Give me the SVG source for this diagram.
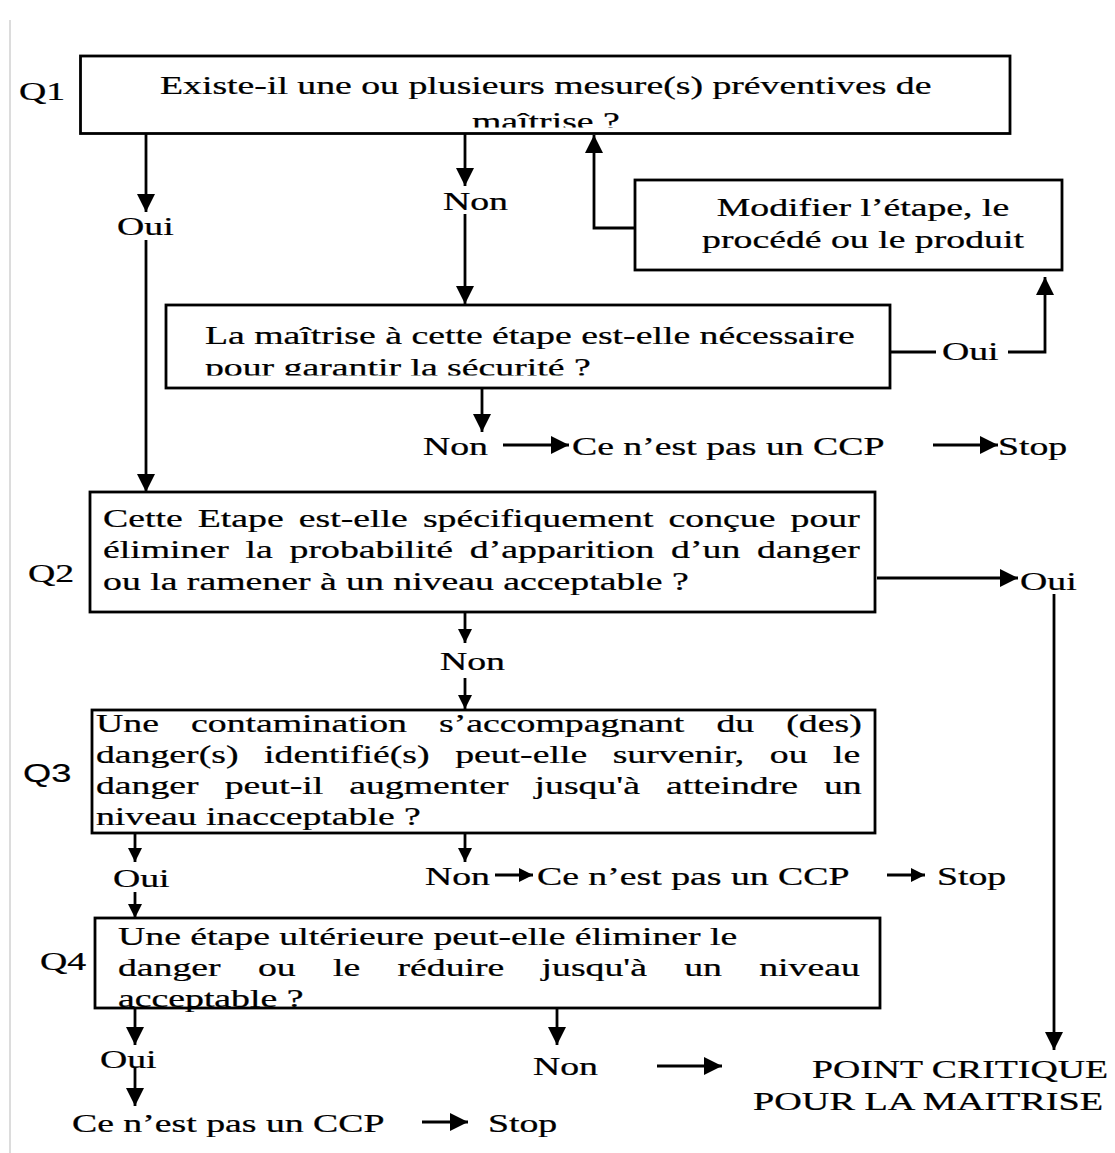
<svg xmlns="http://www.w3.org/2000/svg" width="1115" height="1153" viewBox="0 0 1115 1153">
<style>
.box{fill:#fff;stroke:#000;stroke-width:2.8}
.t{font-family:"Liberation Serif","Times New Roman",serif;font-size:26px;fill:#000;stroke:#000;stroke-width:0.25}
.s{font-family:"Liberation Sans",Arial,sans-serif;font-size:25px;fill:#000;stroke:#000;stroke-width:0.2}
.c{fill:none;stroke:#000;stroke-width:2.8}
</style>
<defs>
<marker id="big" viewBox="0 0 18 18" refX="18" refY="9" markerWidth="18" markerHeight="18" markerUnits="userSpaceOnUse" orient="auto"><path d="M0,0 L18,9 L0,18 z" fill="#000"/></marker>
<marker id="sm" viewBox="0 0 14 14" refX="14" refY="7" markerWidth="14" markerHeight="14" markerUnits="userSpaceOnUse" orient="auto"><path d="M0,0 L14,7 L0,14 z" fill="#000"/></marker>
<clipPath id="clipQ1"><rect x="80" y="56" width="930" height="71.5"/></clipPath>
<clipPath id="clipLM"><rect x="166" y="305" width="724" height="70.5"/></clipPath>
</defs>
<rect width="1115" height="1153" fill="#fff"/>
<line x1="10" y1="20" x2="10" y2="1153" stroke="#dcdcdc" stroke-width="2"/>

<g id="q1">
<rect class="box" x="80.5" y="56" width="929.5" height="77.5"/>
<g transform="scale(1.452,1)"><text class="t" x="13.09" y="100">Q1</text>
<text class="t" x="110.19" y="94.5">Existe-il une ou plusieurs mesure(s) préventives de</text></g>
<g clip-path="url(#clipQ1)"><g transform="scale(1.452,1)"><text class="t" x="325.07" y="130">maîtrise ?</text></g></g>
</g>

<g id="modifier">
<rect class="box" x="635" y="180" width="427" height="90"/>
<g transform="scale(1.452,1)"><text class="t" x="594.35" y="216" text-anchor="middle">Modifier l’étape, le</text>
<text class="t" x="594.35" y="248" text-anchor="middle">procédé ou le produit</text></g>
</g>

<g id="maitrise">
<rect class="box" x="166" y="305" width="724" height="83"/>
<g transform="scale(1.452,1)"><text class="t" x="141.18" y="344">La maîtrise à cette étape est-elle nécessaire</text></g>
<g clip-path="url(#clipLM)"><g transform="scale(1.452,1)"><text class="t" x="141.18" y="376">pour garantir la sécurité ?</text></g></g>
</g>

<g id="ccp1"><g transform="scale(1.452,1)"><text class="t" x="393.94" y="455">Ce n’est pas un CCP</text></g></g>
<g id="stop1"><g transform="scale(1.452,1)"><text class="t" x="687.33" y="455">Stop</text></g></g>

<g id="q2">
<rect class="box" x="90" y="492" width="785" height="120"/>
<g transform="scale(1.452,1)"><text class="t" x="19.28" y="582">Q2</text>
<text class="t" x="70.94" y="527" word-spacing="3.91">Cette Etape est-elle spécifiquement conçue pour</text>
<text class="t" x="70.94" y="558" word-spacing="5.06">éliminer la probabilité d’apparition d’un danger</text>
<text class="t" x="70.94" y="590">ou la ramener à un niveau acceptable ?</text></g>
</g>

<g id="q3">
<rect class="box" x="92" y="710" width="783" height="123"/>
<g transform="scale(1.452,1)"><text class="s" x="15.84" y="782">Q3</text>
<text class="t" x="66.12" y="732" word-spacing="15.63">Une contamination s’accompagnant du (des)</text>
<text class="t" x="66.12" y="763" word-spacing="11.07">danger(s) identifié(s) peut-elle survenir, ou le</text>
<text class="t" x="66.12" y="794" word-spacing="11.42">danger peut-il augmenter jusqu'à atteindre un</text>
<text class="t" x="66.12" y="825">niveau inacceptable ?</text></g>
</g>

<g id="ccp2"><g transform="scale(1.452,1)"><text class="t" x="369.83" y="885">Ce n’est pas un CCP</text></g></g>
<g id="stop2"><g transform="scale(1.452,1)"><text class="t" x="645.32" y="885">Stop</text></g></g>

<g id="q4">
<rect class="box" x="95" y="918" width="785" height="90"/>
<g transform="scale(1.452,1)"><text class="t" x="27.55" y="970">Q4</text>
<text class="t" x="81.27" y="945">Une étape ultérieure peut-elle éliminer le</text>
<text class="t" x="81.27" y="976" word-spacing="19.16">danger ou le réduire jusqu'à un niveau</text>
<text class="t" x="81.27" y="1007">acceptable ?</text></g>
</g>

<g id="ccp3"><g transform="scale(1.452,1)"><text class="t" x="49.59" y="1132">Ce n’est pas un CCP</text></g></g>
<g id="stop3"><g transform="scale(1.452,1)"><text class="t" x="336.09" y="1132">Stop</text></g></g>

<g id="pcm"><g transform="scale(1.452,1)"><text class="t" x="559.23" y="1078">POINT CRITIQUE</text>
<text class="t" x="518.6" y="1110" textLength="241.05" lengthAdjust="spacingAndGlyphs">POUR LA MAITRISE</text></g></g>

<g id="connectors">
<line class="c" x1="146" y1="134" x2="146" y2="212" marker-end="url(#big)"/>
<line class="c" x1="146" y1="240" x2="146" y2="492" marker-end="url(#big)"/>
<line class="c" x1="465" y1="134" x2="465" y2="186" marker-end="url(#big)"/>
<line class="c" x1="465" y1="214" x2="465" y2="304" marker-end="url(#big)"/>
<polyline class="c" points="635,228 594,228 594,135" marker-end="url(#big)"/>
<line class="c" x1="890" y1="352" x2="936" y2="352"/>
<polyline class="c" points="1008,352 1045,352 1045,277" marker-end="url(#big)"/>
<line class="c" x1="482" y1="388" x2="482" y2="432" marker-end="url(#big)"/>
<line class="c" x1="503" y1="445" x2="569" y2="445" marker-end="url(#big)"/>
<line class="c" x1="933" y1="445" x2="998" y2="445" marker-end="url(#big)"/>
<line class="c" x1="877" y1="578" x2="1018" y2="578" marker-end="url(#big)"/>
<line class="c" x1="1054" y1="594" x2="1054" y2="1050" marker-end="url(#big)"/>
<line class="c" x1="465" y1="612" x2="465" y2="643" marker-end="url(#sm)"/>
<line class="c" x1="465" y1="678" x2="465" y2="709" marker-end="url(#sm)"/>
<line class="c" x1="135" y1="833" x2="135" y2="862" marker-end="url(#sm)"/>
<line class="c" x1="135" y1="892" x2="135" y2="918" marker-end="url(#sm)"/>
<line class="c" x1="465" y1="833" x2="465" y2="862" marker-end="url(#sm)"/>
<line class="c" x1="495" y1="875" x2="533" y2="875" marker-end="url(#sm)"/>
<line class="c" x1="887" y1="875" x2="925" y2="875" marker-end="url(#sm)"/>
<line class="c" x1="135" y1="1008" x2="135" y2="1045" marker-end="url(#big)"/>
<line class="c" x1="135" y1="1068" x2="135" y2="1106" marker-end="url(#big)"/>
<line class="c" x1="422" y1="1122" x2="468" y2="1122" marker-end="url(#big)"/>
<line class="c" x1="557" y1="1008" x2="557" y2="1045" marker-end="url(#big)"/>
<line class="c" x1="657" y1="1066" x2="722" y2="1066" marker-end="url(#big)"/>
<g transform="scale(1.452,1)">
<text class="t" x="80.58" y="235">Oui</text>
<text class="t" x="305.1" y="210">Non</text>
<text class="t" x="648.76" y="360">Oui</text>
<text class="t" x="291.32" y="455">Non</text>
<text class="t" x="702.48" y="590">Oui</text>
<text class="t" x="303.03" y="670">Non</text>
<text class="t" x="77.82" y="887">Oui</text>
<text class="t" x="292.7" y="885">Non</text>
<text class="t" x="68.87" y="1068">Oui</text>
<text class="t" x="367.08" y="1075">Non</text>
</g>
</g>
</svg>
